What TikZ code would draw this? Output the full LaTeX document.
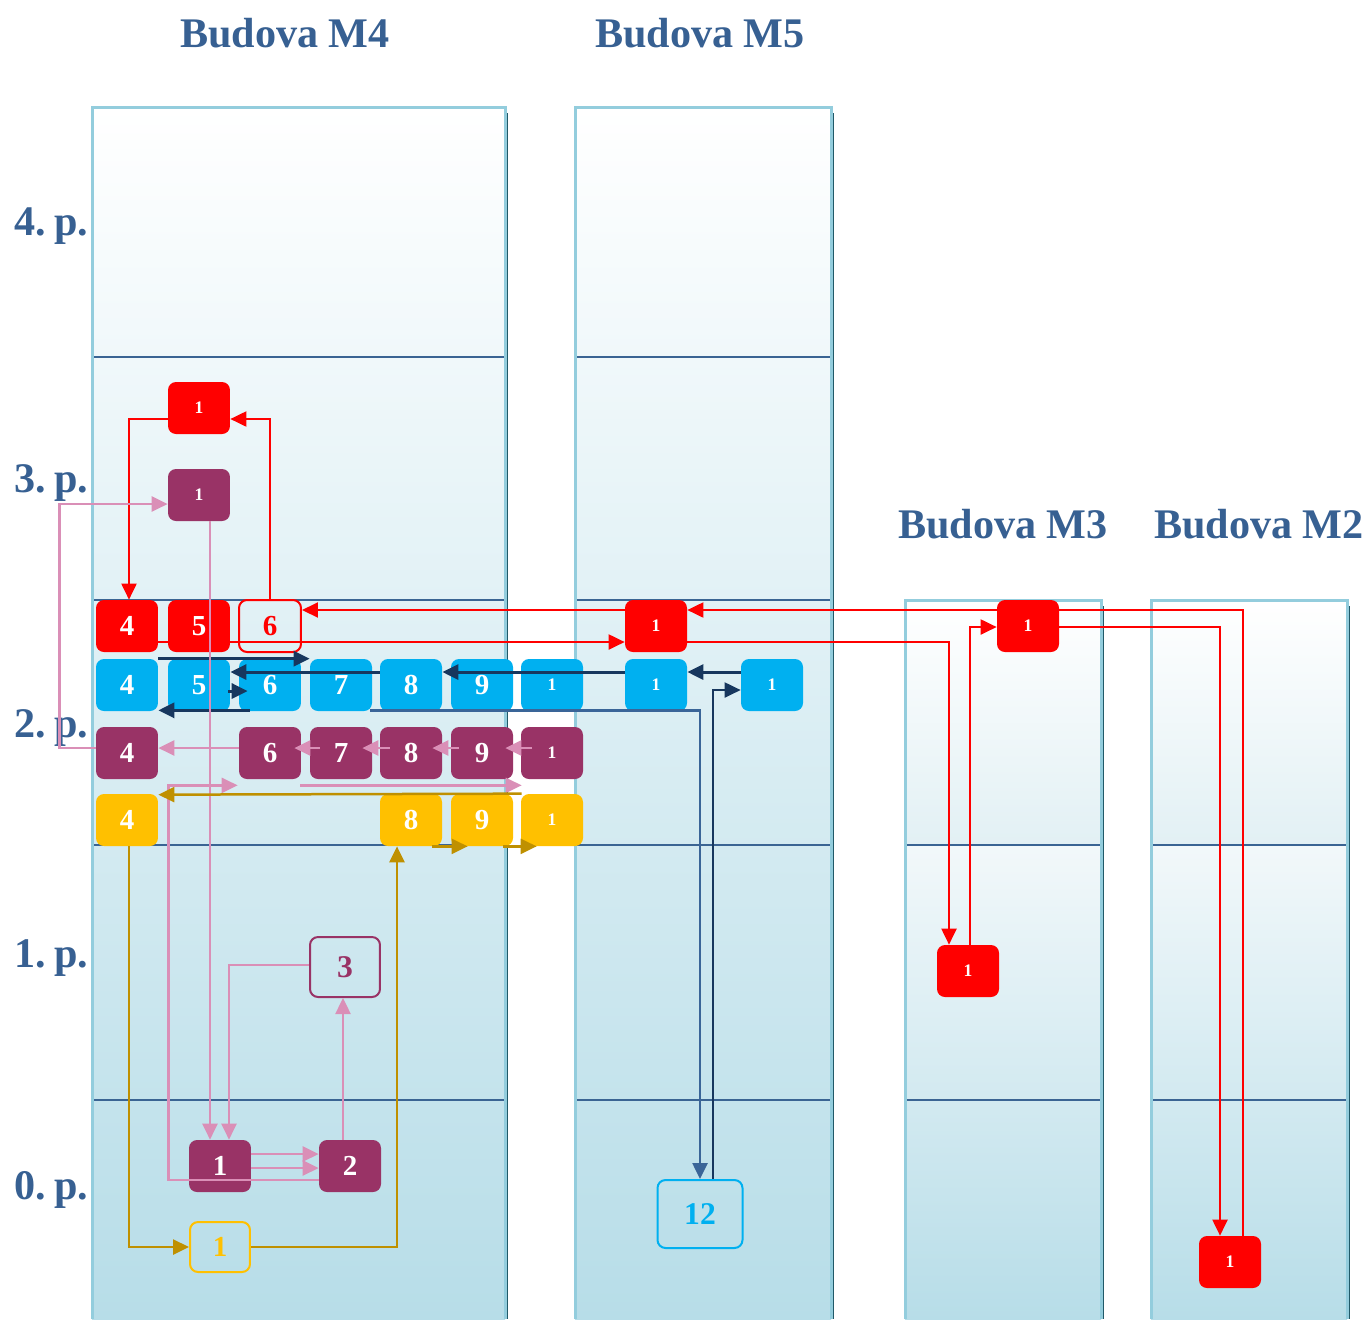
\documentclass[tikz,border=0pt]{standalone}
\usepackage{fontspec}
\setmainfont{Liberation Serif}
\usetikzlibrary{arrows.meta,calc}
\usepackage{xcolor}
\definecolor{titleblue}{HTML}{376092}
\definecolor{colborder}{HTML}{93CDDD}
\definecolor{colshadow}{HTML}{215968}
\definecolor{floorline}{HTML}{3A6493}
\definecolor{colbottom}{HTML}{B7DDE8}
\definecolor{colmid}{HTML}{E2F0F4}
\definecolor{collight}{HTML}{F2F8FA}
\definecolor{boxred}{HTML}{FF0000}
\definecolor{boxblue}{HTML}{00B0F0}
\definecolor{boxpurple}{HTML}{993366}
\definecolor{boxyellow}{HTML}{FFC000}
\definecolor{navy}{HTML}{17375E}
\definecolor{steel}{HTML}{3A6598}
\definecolor{pinkc}{HTML}{DA8FB7}
\definecolor{goldc}{HTML}{BF9000}
\pgfdeclarelayer{back}
\pgfsetlayers{back,main}
\tikzset{
  title/.style={text=titleblue, font=\bfseries\fontsize{24}{24}\selectfont, inner sep=0pt},
  floorlabel/.style={title, anchor=west},
  box/.style={rounded corners=0.16cm, minimum width=1.24cm, minimum height=1.04cm, inner sep=0pt, text=white, font=\bfseries\fontsize{16.5}{16.5}\selectfont},
  small/.style={font=\bfseries\fontsize{10}{10}\selectfont},
  redbox/.style={box, fill=boxred},
  bluebox/.style={box, fill=boxblue},
  purplebox/.style={box, fill=boxpurple},
  yellowbox/.style={box, fill=boxyellow},
  redopen/.style={box, draw=boxred, line width=0.04cm, text=boxred},
  blueopen/.style={box, draw=boxblue, line width=0.04cm, text=boxblue, minimum width=1.7cm, minimum height=1.36cm, font=\bfseries\fontsize{18}{18}\selectfont},
  purpleopen/.style={box, draw=boxpurple, line width=0.04cm, text=boxpurple, minimum width=1.4cm, minimum height=1.2cm, font=\bfseries\fontsize{18}{18}\selectfont},
  yellowopen/.style={box, draw=boxyellow, line width=0.04cm, text=boxyellow, minimum width=1.2cm, minimum height=1cm},
  arr/.style={-{Triangle[length=0.32cm, width=0.3cm]}},
  redline/.style={arr, draw=boxred, line width=0.04cm},
  navyline/.style={arr, draw=navy, line width=0.06cm},
  steelline/.style={arr, draw=steel, line width=0.05cm},
  pinkline/.style={arr, draw=pinkc, line width=0.05cm},
  goldline/.style={arr, draw=goldc, line width=0.05cm}
}

\begin{document}
\begin{tikzpicture}[x=0.02cm, y=-0.02cm]
  \useasboundingbox (0,0) rectangle (1368,1319);
  \begin{pgfonlayer}{back}
    % budovy M4, M5
    \foreach \xa/\xb in {92/505, 575/831}{
      \shade[top color=white, bottom color=colbottom] (\xa,107) rectangle (\xb,1319);
      \foreach \yf in {357,600,845,1100}
        \draw[floorline, line width=0.03cm] (\xa,\yf) -- (\xb,\yf);
      \draw[colshadow, line width=0.04cm] (\xb+2,113) -- (\xb+2,1319);
      \draw[colborder, line width=0.06cm] (\xa,1319) -- (\xa,107) -- (\xb,107) -- (\xb,1319);
    }
    % budovy M3, M2
    \foreach \xa/\xb in {905/1101, 1151/1347}{
      \shade[top color=white, bottom color=colmid] (\xa,600) rectangle (\xb,845);
      \shade[top color=collight, bottom color=colbottom] (\xa,845) rectangle (\xb,1319);
      \foreach \yf in {845,1100}
        \draw[floorline, line width=0.03cm] (\xa,\yf) -- (\xb,\yf);
      \draw[colshadow, line width=0.04cm] (\xb+2,606) -- (\xb+2,1319);
      \draw[colborder, line width=0.06cm] (\xa,1319) -- (\xa,600) -- (\xb,600) -- (\xb,1319);
    }
  \end{pgfonlayer}

  \node[title] (tm4) at (285,33) {Budova M4};
  \node[title] (tm5) at (700,33) {Budova M5};
  \node[title] (tm3) at (1003,524) {Budova M3};
  \node[title] (tm2) at (1259,524) {Budova M2};
  \node[floorlabel] (f4) at (14,226) {4.\hspace{0.2em}p.};
  \node[floorlabel] (f3) at (14,483) {3.\hspace{0.2em}p.};
  \node[floorlabel] (f2) at (14,728) {2.\hspace{0.2em}p.};
  \node[floorlabel] (f1) at (14,958) {1.\hspace{0.2em}p.};
  \node[floorlabel] (f0) at (14,1190) {0.\hspace{0.2em}p.};

  \node[redbox] (r4) at (127,626) {4};
  \node[redbox] (r5) at (199,626) {5};
  \node[redopen] (r6) at (270,626) {6};
  \node[redbox, small] (r31) at (199,408) {1};
  \node[redbox, small] (rm5) at (656,626) {1};
  \node[redbox, small] (rm3) at (1028,626) {1};
  \node[redbox, small] (rm31) at (968,971) {1};
  \node[redbox, small] (rm20) at (1230,1262) {1};

  \node[bluebox] (b4) at (127,685) {4};
  \node[bluebox] (b5) at (199,685) {5};
  \node[bluebox] (b6) at (270,685) {6};
  \node[bluebox] (b7) at (341,685) {7};
  \node[bluebox] (b8) at (411,685) {8};
  \node[bluebox] (b9) at (482,685) {9};
  \node[bluebox, small] (b10) at (552,685) {1};
  \node[bluebox, small] (bm5) at (656,685) {1};
  \node[bluebox, small] (bm5r) at (772,685) {1};
  \node[blueopen] (b12) at (700,1214) {12};

  \node[purplebox] (p4) at (127,753) {4};
  \node[purplebox] (p6) at (270,753) {6};
  \node[purplebox] (p7) at (341,753) {7};
  \node[purplebox] (p8) at (411,753) {8};
  \node[purplebox] (p9) at (482,753) {9};
  \node[purplebox, small] (p10) at (552,753) {1};
  \node[purplebox, small] (p31) at (199,495) {1};
  \node[purplebox] (p01) at (220,1166) {1};
  \node[purplebox] (p02) at (350,1166) {2};
  \node[purpleopen] (p13) at (345,967) {3};

  \node[yellowbox] (y4) at (127,820) {4};
  \node[yellowbox] (y8) at (411,820) {8};
  \node[yellowbox] (y9) at (482,820) {9};
  \node[yellowbox, small] (y10) at (552,820) {1};
  \node[yellowopen] (y01) at (220,1247) {1};

  % cervena
  \begin{pgfonlayer}{back}
    \draw[redline] ($(rm20.north)+(13,0)$) |- ($(rm5.east)+(0,-16)$);
  \end{pgfonlayer}
  \draw[redline] (r6.north) |- ($(r31.east)+(0,11)$);
  \draw[redline] ($(r31.west)+(0,11)$) -| ($(r4.north)+(2,0)$);
  \draw[redline] ($(r4.east)+(0,16)$) -- ($(rm5.west)+(0,16)$);
  \draw[redline] ($(rm5.east)+(0,16)$) -| ($(rm31.north)+(-19,0)$);
  \draw[redline] ($(rm31.north)+(2,0)$) |- ($(rm3.west)+(0,1)$);
  \draw[redline] ($(rm3.east)+(0,1)$) -| ($(rm20.north)+(-10,0)$);
  \draw[redline] ($(rm5.west)+(0,-16)$) -- ($(r6.east)+(0,-16)$);

  % modra
  \draw[navyline] (b4.north east) -- (b7.north west);
  \draw[navyline] ($(bm5r.west)+(0,-13)$) -- ($(bm5.east)+(0,-13)$);
  \draw[navyline] ($(bm5.west)+(0,-13)$) -- ($(b8.east)+(0,-13)$);
  \draw[navyline] ($(b8.west)+(0,-13)$) -- ($(b5.east)+(0,-13)$);
  \draw[navyline] ($(b5.east)+(-2,6)$) -- ($(b6.west)+(9,6)$);
  \draw[navyline] ($(b6.south west)+(11,-1)$) -- ($(b4.south east)+(0,-1)$);
  \draw[steelline] ($(b7.south east)+(-2,-1)$) -| (b12.north);
  \draw[navyline, line width=0.04cm] ($(b12.north)+(13,0)$) |- ($(bm5r.west)+(0,5)$);

  % fialova
  \draw[pinkline] ($(p4.west)+(0,-5)$) -- ++(-36,0) |- ($(p31.west)+(0,9)$);
  \draw[pinkline] ($(p31.south)+(11,0)$) -- ($(p01.north)+(-10,0)$);
  \draw[pinkline] ($(p13.west)+(0,-2)$) -| ($(p01.north)+(9,0)$);
  \draw[pinkline] ($(p01.east)+(0,-12)$) -- ($(p02.west)+(0,-12)$);
  \draw[pinkline] ($(p01.east)+(0,2)$) -- ($(p02.west)+(0,2)$);
  \draw[pinkline] ($(p02.north)+(-7,0)$) -- ($(p13.south)+(-2,0)$);
  \draw[pinkline] ($(p02.west)+(0,14)$) -- ($(p01.west)+(-20,14)$) |- ($(p6.south west)+(-1,6)$);
  \draw[pinkline] ($(p6.south east)+(-1,6)$) -- ($(p10.south west)+(1,6)$);
  \draw[pinkline] ($(p10.west)+(11,-5)$) -- ($(p9.east)+(-8,-5)$);
  \draw[pinkline] ($(p9.west)+(8,-5)$) -- ($(p8.east)+(-10,-5)$);
  \draw[pinkline] ($(p8.west)+(10,-5)$) -- ($(p7.east)+(-10,-5)$);
  \draw[pinkline] ($(p7.west)+(10,-5)$) -- ($(p6.east)+(-7,-5)$);
  \draw[pinkline] ($(p6.west)+(0,-5)$) -- ($(p4.east)+(0,-5)$);

  % zluta
  \draw[goldline] ($(y4.south)+(2,0)$) |- (y01.west);
  \draw[goldline] (y01.east) -| ($(y8.south)+(-14,0)$);
  \draw[goldline] ($(y8.south east)+(-10,0)$) -- ($(y9.south west)+(17,0)$);
  \draw[goldline] ($(y9.south east)+(-10,0)$) -- ($(y10.south west)+(16,0)$);
  \draw[goldline] ($(y10.north west)+(1,0)$) -- ($(y4.north east)+(0,1)$);
\end{tikzpicture}
\end{document}
